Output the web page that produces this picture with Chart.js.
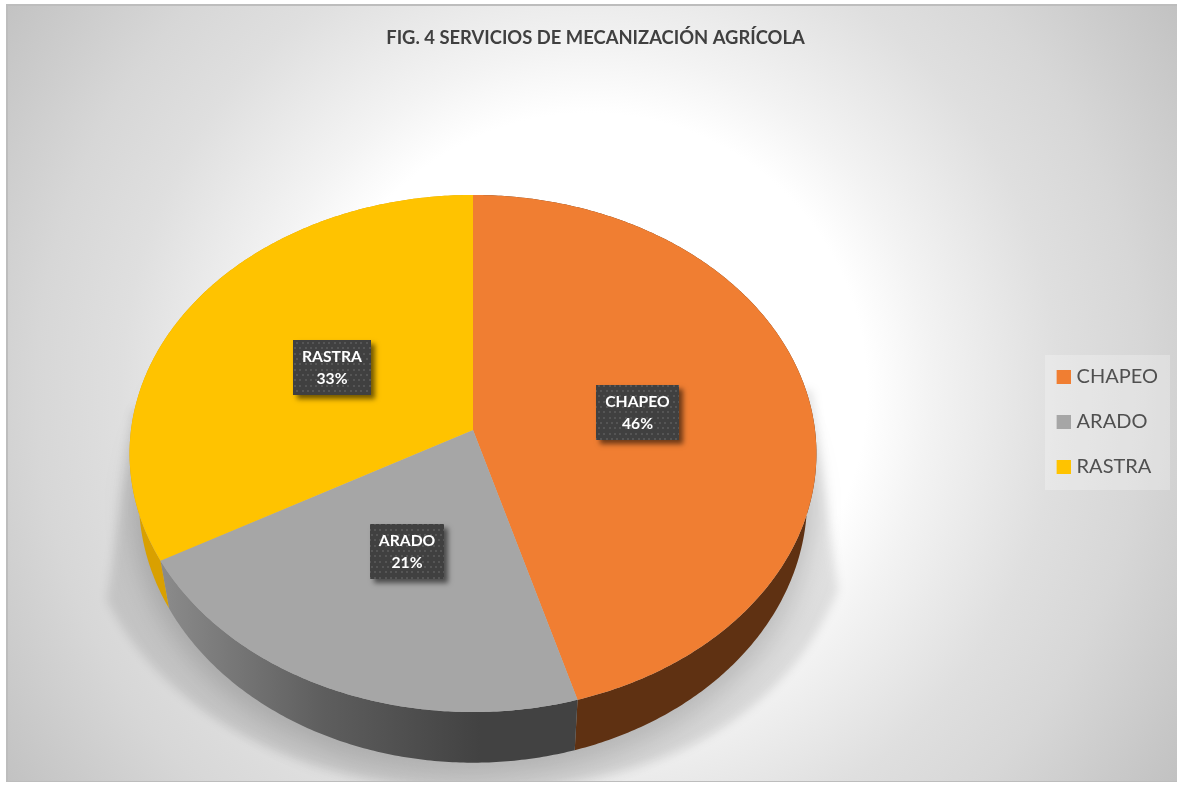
<!DOCTYPE html>
<html lang="es">
<head>
<meta charset="utf-8">
<title>Servicios de mecanización agrícola</title>
<script src="https://cdn.jsdelivr.net/npm/chart.js@4/dist/chart.umd.js"></script>
<style>
html,body{margin:0;padding:0;background:#fff;overflow:hidden}
canvas{display:block}
</style>
</head>
<body>
<canvas id="c" width="1177" height="786"></canvas>
<script>
const categories = ['CHAPEO', 'ARADO', 'RASTRA'];
const shares = [45.5, 21.4, 33.1];
const topColors = ['#F07E32', '#A6A6A6', '#FFC300'];
const titleText = 'FIG. 4 SERVICIOS DE MECANIZACIÓN AGRÍCOLA';

const FONT = 'Lato, "Open Sans", sans-serif';
const k = 0.0909, AX = 342, BY = 256.4;
const top3d = {cx: 473, cy: 430, sx: 1, sy: 1};
const base3d = {cx: 473, cy: 475, sx: 0.973, sy: 1.02};

function proj(theta, p, f) {
  const r = f === undefined ? 1 : f;
  const u = r * Math.sin(theta), v = -r * Math.cos(theta), w = 1 - k * v;
  return [p.cx + AX * p.sx * u / w, p.cy + BY * p.sy * v / w];
}
function arcPts(a, b, p) {
  const n = Math.max(2, Math.ceil((b - a) / 0.01)), pts = [];
  for (let i = 0; i <= n; i++) pts.push(proj(a + (b - a) * i / n, p));
  return pts;
}
function trace(ctx, pts) {
  pts.forEach((q, i) => i ? ctx.lineTo(q[0], q[1]) : ctx.moveTo(q[0], q[1]));
}

function swatch(color) {
  const s = document.createElement('canvas');
  s.width = 18; s.height = 14;
  const g = s.getContext('2d');
  g.fillStyle = color; g.fillRect(4, 0, 14, 14);
  return s;
}

function dots() {
  const s = document.createElement('canvas');
  s.width = 16; s.height = 16;
  const g = s.getContext('2d');
  g.fillStyle = '#404040'; g.fillRect(0, 0, 16, 16);
  g.fillStyle = '#555555';
  [[1,1],[6,1],[11,1],[3,6],[8,6],[14,6],[1,11],[6,11],[11,11]].forEach(d => g.fillRect(d[0], d[1], 2, 2));
  return s;
}

const panelPlugin = {
  id: 'panel',
  afterLayout(chart) {
    chart.legend.top += 29;
    chart.legend.bottom += 29;
  },
  beforeDraw(chart) {
    const ctx = chart.ctx;
    ctx.save();
    ctx.fillStyle = '#ffffff';
    ctx.fillRect(0, 0, chart.width, chart.height);
    const g = ctx.createRadialGradient(590, 390, 0, 590, 390, 710);
    g.addColorStop(0, '#ffffff');
    g.addColorStop(0.39, '#ffffff');
    g.addColorStop(0.48, '#f3f3f3');
    g.addColorStop(0.66, '#dfdfdf');
    g.addColorStop(0.78, '#d7d7d7');
    g.addColorStop(1, '#c1c1c1');
    ctx.fillStyle = '#bdbdbd';
    ctx.fillRect(6, 4, 1171, 778);
    ctx.fillStyle = g;
    ctx.fillRect(8, 6, 1169, 775);
    ctx.fillStyle = 'rgba(255,255,255,0.25)';
    ctx.fillRect(1045, 355, 125, 135);
    ctx.restore();
  }
};

const pie3dPlugin = {
  id: 'pie3d',
  beforeDatasetsDraw(chart) {
    const ctx = chart.ctx;
    const arcs = chart.getDatasetMeta(0).data;
    ctx.save();
    // soft ground shadow
    ctx.save();
    ctx.beginPath();
    ctx.rect(8, 6, 1169, 775);
    ctx.clip();
    ctx.filter = 'blur(5px)';
    ctx.fillStyle = 'rgba(0,0,0,0.10)';
    ctx.beginPath();
    ctx.moveTo(133, 410);
    ctx.lineTo(107, 600);
    ctx.bezierCurveTo(170, 730, 330, 790, 473, 790);
    ctx.bezierCurveTo(640, 790, 780, 730, 838, 590);
    ctx.lineTo(812, 390);
    ctx.closePath();
    ctx.fill();
    ctx.filter = 'blur(14px)';
    ctx.fillStyle = 'rgba(0,0,0,0.17)';
    ctx.beginPath();
    trace(ctx, arcPts(0, Math.PI * 2, {cx: 473, cy: 484, sx: 0.99, sy: 1.04}));
    ctx.closePath();
    ctx.fill();
    ctx.restore();

    // side walls
    const grayWall = ctx.createLinearGradient(165, 0, 480, 0);
    grayWall.addColorStop(0, '#8a8a8a');
    grayWall.addColorStop(0.5, '#5e5e5e');
    grayWall.addColorStop(1, '#424242');
    const walls = ['#5F3112', grayWall, '#D9A000'];
    arcs.forEach((arc, i) => {
      const a = arc.startAngle + Math.PI / 2, b = arc.endAngle + Math.PI / 2;
      ctx.beginPath();
      trace(ctx, arcPts(a, b, top3d).concat(arcPts(a, b, base3d).reverse()));
      ctx.closePath();
      ctx.fillStyle = walls[i];
      ctx.fill();
    });
    // top faces
    arcs.forEach((arc, i) => {
      const a = arc.startAngle + Math.PI / 2, b = arc.endAngle + Math.PI / 2;
      ctx.beginPath();
      trace(ctx, [[top3d.cx, top3d.cy]].concat(arcPts(a, b, top3d)));
      ctx.closePath();
      ctx.fillStyle = arc.options.backgroundColor;
      ctx.fill();
    });
    ctx.restore();
    return false;
  },
  afterDraw(chart) {
    const ctx = chart.ctx;
    const arcs = chart.getDatasetMeta(0).data;
    const pat = ctx.createPattern(dots(), 'repeat');
    arcs.forEach((arc, i) => {
      const mid = (arc.startAngle + arc.endAngle) / 2 + Math.PI / 2;
      const c = proj(mid, top3d, 0.49);
      const line2 = Math.round(shares[i]) + '%';
      ctx.save();
      ctx.font = 'bold 15.7px ' + FONT;
      const w = Math.round(ctx.measureText(categories[i]).width) + 18, h = 55;
      const bx = Math.round(c[0] - w / 2), by = Math.round(c[1] - h / 2);
      ctx.shadowColor = 'rgba(0,0,0,0.55)';
      ctx.shadowBlur = 5;
      ctx.shadowOffsetX = 4;
      ctx.shadowOffsetY = 4;
      ctx.fillStyle = '#404040';
      ctx.fillRect(bx, by, w, h);
      ctx.shadowColor = 'transparent';
      ctx.fillStyle = pat;
      ctx.fillRect(bx, by, w, h);
      ctx.fillStyle = '#ffffff';
      ctx.textAlign = 'center';
      ctx.textBaseline = 'middle';
      ctx.fillText(categories[i], bx + w / 2, by + 17);
      ctx.fillText(line2, bx + w / 2, by + 39);
      ctx.restore();
    });
  }
};

new Chart(document.getElementById('c'), {
  type: 'pie',
  data: {
    labels: categories,
    datasets: [{data: shares, backgroundColor: topColors, borderWidth: 0}]
  },
  plugins: [panelPlugin, pie3dPlugin],
  options: {
    responsive: false,
    animation: false,
    events: [],
    rotation: 0,
    layout: {padding: {left: 23, right: 9, top: 0, bottom: 0}},
    plugins: {
      tooltip: {enabled: false},
      title: {
        display: true,
        text: titleText,
        color: '#404040',
        font: {family: FONT, size: 18.4, weight: 'bold'},
        padding: {top: 27, bottom: 10}
      },
      legend: {
        display: true,
        position: 'right',
        labels: {
          color: '#505050',
          font: {family: FONT, size: 20},
          usePointStyle: true,
          boxHeight: 14,
          pointStyleWidth: 10,
          padding: 25,
          generateLabels: chart => categories.map((c, i) => ({
            text: c,
            pointStyle: swatch(topColors[i]),
            fontColor: '#505050',
            hidden: false,
            index: i
          }))
        }
      }
    }
  }
});
</script>
</body>
</html>
